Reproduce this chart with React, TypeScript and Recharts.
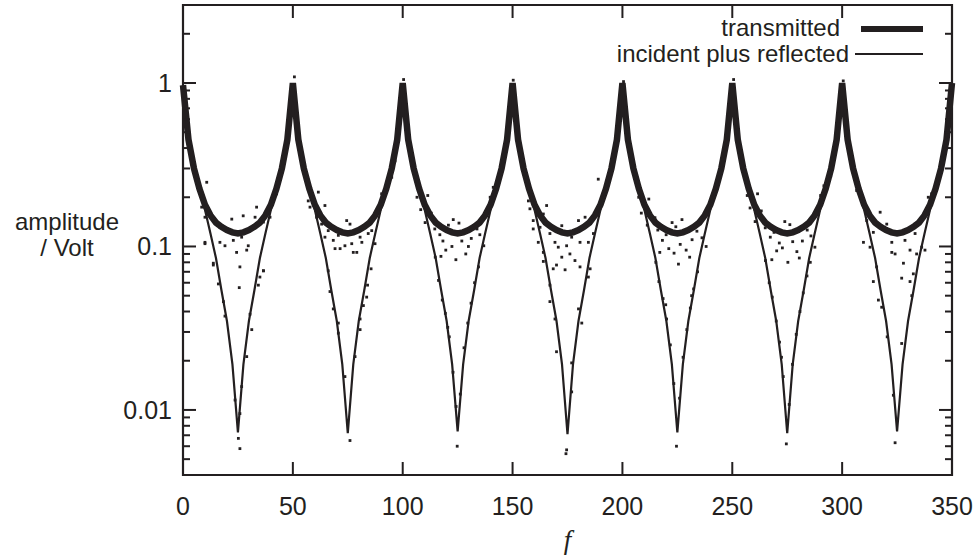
import React from 'react';
import { ComposedChart, Line, Scatter, XAxis, YAxis, ReferenceArea } from 'recharts';

// frequency samples (x axis)
const fValues = [
  0, 2.5, 5, 7.5, 10, 12.5, 15, 17.5, 20, 22.5, 25, 27.5, 30, 32.5, 35, 37.5, 40, 42.5, 45, 47.5,
  50, 52.5, 55, 57.5, 60, 62.5, 65, 67.5, 70, 72.5, 75, 77.5, 80, 82.5, 85, 87.5, 90, 92.5, 95, 97.5,
  100, 102.5, 105, 107.5, 110, 112.5, 115, 117.5, 120, 122.5, 125, 127.5, 130, 132.5, 135, 137.5, 140, 142.5, 145, 147.5,
  150, 152.5, 155, 157.5, 160, 162.5, 165, 167.5, 170, 172.5, 175, 177.5, 180, 182.5, 185, 187.5, 190, 192.5, 195, 197.5,
  200, 202.5, 205, 207.5, 210, 212.5, 215, 217.5, 220, 222.5, 225, 227.5, 230, 232.5, 235, 237.5, 240, 242.5, 245, 247.5,
  250, 252.5, 255, 257.5, 260, 262.5, 265, 267.5, 270, 272.5, 275, 277.5, 280, 282.5, 285, 287.5, 290, 292.5, 295, 297.5,
  300, 302.5, 305, 307.5, 310, 312.5, 315, 317.5, 320, 322.5, 325, 327.5, 330, 332.5, 335, 337.5, 340, 342.5, 345, 347.5,
  350,
];

// theory curve: transmitted (thick)
const transmittedValues = [
  0.97, 0.45, 0.30, 0.225, 0.18, 0.155, 0.14, 0.132, 0.126, 0.122, 0.12, 0.122, 0.126, 0.132, 0.14, 0.155, 0.18, 0.225, 0.30, 0.45,
  1.0, 0.45, 0.30, 0.225, 0.18, 0.155, 0.14, 0.132, 0.126, 0.122, 0.12, 0.122, 0.126, 0.132, 0.14, 0.155, 0.18, 0.225, 0.30, 0.45,
  1.0, 0.45, 0.30, 0.225, 0.18, 0.155, 0.14, 0.132, 0.126, 0.122, 0.12, 0.122, 0.126, 0.132, 0.14, 0.155, 0.18, 0.225, 0.30, 0.45,
  1.0, 0.45, 0.30, 0.225, 0.18, 0.155, 0.14, 0.132, 0.126, 0.122, 0.12, 0.122, 0.126, 0.132, 0.14, 0.155, 0.18, 0.225, 0.30, 0.45,
  1.0, 0.45, 0.30, 0.225, 0.18, 0.155, 0.14, 0.132, 0.126, 0.122, 0.12, 0.122, 0.126, 0.132, 0.14, 0.155, 0.18, 0.225, 0.30, 0.45,
  1.0, 0.45, 0.30, 0.225, 0.18, 0.155, 0.14, 0.132, 0.126, 0.122, 0.12, 0.122, 0.126, 0.132, 0.14, 0.155, 0.18, 0.225, 0.30, 0.45,
  1.0, 0.45, 0.30, 0.225, 0.18, 0.155, 0.14, 0.132, 0.126, 0.122, 0.12, 0.122, 0.126, 0.132, 0.14, 0.155, 0.18, 0.225, 0.30, 0.45,
  1.0,
];

// theory curve: incident plus reflected (thin)
const reflectedValues = [
  0.97, 0.46, 0.305, 0.225, 0.168, 0.12, 0.085, 0.054, 0.035, 0.019, 0.0073, 0.019, 0.035, 0.054, 0.085, 0.12, 0.168, 0.225, 0.305, 0.46,
  1.0, 0.46, 0.305, 0.225, 0.168, 0.12, 0.085, 0.054, 0.035, 0.019, 0.0072, 0.019, 0.035, 0.054, 0.085, 0.12, 0.168, 0.225, 0.305, 0.46,
  1.0, 0.46, 0.305, 0.225, 0.168, 0.12, 0.085, 0.054, 0.035, 0.019, 0.0074, 0.019, 0.035, 0.054, 0.085, 0.12, 0.168, 0.225, 0.305, 0.46,
  1.0, 0.46, 0.305, 0.225, 0.168, 0.12, 0.085, 0.054, 0.035, 0.019, 0.0071, 0.019, 0.035, 0.054, 0.085, 0.12, 0.168, 0.225, 0.305, 0.46,
  1.0, 0.46, 0.305, 0.225, 0.168, 0.12, 0.085, 0.054, 0.035, 0.019, 0.0073, 0.019, 0.035, 0.054, 0.085, 0.12, 0.168, 0.225, 0.305, 0.46,
  1.0, 0.46, 0.305, 0.225, 0.168, 0.12, 0.085, 0.054, 0.035, 0.019, 0.0072, 0.019, 0.035, 0.054, 0.085, 0.12, 0.168, 0.225, 0.305, 0.46,
  1.0, 0.46, 0.305, 0.225, 0.168, 0.12, 0.085, 0.054, 0.035, 0.019, 0.0074, 0.019, 0.035, 0.054, 0.085, 0.12, 0.168, 0.225, 0.305, 0.46,
  1.0,
];

// measured points [f, amplitude]
const transmittedMeasured = [
  [1.2, 0.82], [3.1, 0.41], [10.8, 0.247], [8.5, 0.174], [10.0, 0.151], [13.8, 0.144], [16.8, 0.131], [22.2, 0.147], [27.4, 0.154],
  [32.8, 0.151], [33.5, 0.174], [36.6, 0.141], [39.6, 0.151], [16.8, 0.106], [19.1, 0.101], [22.9, 0.109], [26.7, 0.114],
  [29.7, 0.101], [24.4, 0.092], [29.0, 0.095], [25.9, 0.075], [10.0, 0.106], [13.8, 0.079], [36.6, 0.071], [42.6, 0.21], [44.9, 0.29],
  [50.7, 1.09], [57.0, 0.19], [57.8, 0.174], [61.6, 0.215], [64.6, 0.178], [60.8, 0.151], [63.1, 0.137], [66.1, 0.125], [64.6, 0.114],
  [68.4, 0.109], [70.7, 0.117], [74.5, 0.144], [76.0, 0.137], [69.2, 0.097], [71.5, 0.097], [76.8, 0.104], [79.1, 0.092], [81.4, 0.106],
  [84.3, 0.12], [85.9, 0.125], [87.4, 0.104], [90.4, 0.21], [91.9, 0.22], [95.0, 0.265], [96.5, 0.334], [80.6, 0.114], [73.7, 0.101], [77.5, 0.092],
  [100.4, 1.05], [106.5, 0.2], [108.2, 0.168], [111.4, 0.205], [113.0, 0.16], [110.2, 0.14], [114.6, 0.128], [116.9, 0.118], [118.3, 0.108],
  [120.8, 0.135], [123.0, 0.146], [125.6, 0.139], [119.6, 0.095], [122.4, 0.1], [126.9, 0.108], [128.7, 0.09], [131.2, 0.112], [133.8, 0.128],
  [135.1, 0.118], [136.9, 0.101], [139.8, 0.2], [141.2, 0.23], [144.6, 0.28], [124.2, 0.083], [129.9, 0.1], [117.4, 0.087],
  [150.3, 1.04], [157.2, 0.19], [157.9, 0.17], [165.5, 0.178], [164.0, 0.158], [159.4, 0.144], [162.5, 0.131], [161.7, 0.106], [164.0, 0.092],
  [167.0, 0.12], [169.3, 0.106], [172.4, 0.134], [180.0, 0.144], [183.0, 0.151], [176.9, 0.114], [180.7, 0.106], [174.6, 0.101], [170.8, 0.099],
  [172.4, 0.086], [176.1, 0.09], [178.4, 0.082], [184.5, 0.106], [186.8, 0.12], [189.0, 0.258], [191.3, 0.21], [168.5, 0.073], [180.7, 0.075], [159.4, 0.128],
  [200.5, 1.02], [207.4, 0.2], [208.6, 0.16], [212.0, 0.195], [214.8, 0.15], [211.3, 0.135], [216.1, 0.126], [218.2, 0.109], [219.9, 0.118],
  [222.6, 0.14], [224.3, 0.132], [227.1, 0.146], [221.1, 0.097], [223.5, 0.091], [226.3, 0.103], [229.0, 0.095], [231.7, 0.11], [233.9, 0.124],
  [236.2, 0.113], [238.1, 0.1], [240.6, 0.19], [242.0, 0.225], [245.1, 0.3], [225.5, 0.078], [230.6, 0.086], [217.0, 0.092],
  [250.6, 1.05], [256.8, 0.205], [258.1, 0.172], [261.5, 0.21], [263.2, 0.165], [260.4, 0.142], [265.0, 0.13], [267.3, 0.114], [269.0, 0.122],
  [271.4, 0.105], [273.9, 0.142], [276.2, 0.136], [270.2, 0.094], [272.8, 0.098], [277.5, 0.107], [279.4, 0.093], [281.9, 0.108], [284.1, 0.126],
  [285.8, 0.116], [287.6, 0.099], [290.2, 0.205], [291.7, 0.235], [294.8, 0.27], [275.3, 0.08], [280.5, 0.085], [268.0, 0.083],
  [300.5, 1.03], [291.4, 0.21], [306.6, 0.22], [311.2, 0.144], [317.3, 0.162], [320.3, 0.137], [309.7, 0.106], [312.7, 0.099], [314.2, 0.122],
  [322.6, 0.106], [324.1, 0.09], [322.6, 0.092], [327.9, 0.079], [327.1, 0.064], [328.6, 0.109], [330.9, 0.095], [333.2, 0.12],
  [336.2, 0.099], [337.7, 0.095], [339.2, 0.2], [340.7, 0.21], [333.2, 0.137],
];

const reflectedMeasured = [
  [10.0, 0.104], [13.8, 0.077], [16.1, 0.059], [18.4, 0.046], [19.1, 0.0375], [25.6, 0.056], [30.5, 0.0385], [31.3, 0.031], [29.0, 0.0212],
  [26.7, 0.0139], [25.9, 0.0095], [25.2, 0.0067], [25.9, 0.0058], [34.3, 0.058], [36.6, 0.071], [35.0, 0.065], [23.7, 0.0115],
  [66.1, 0.071], [66.9, 0.053], [68.4, 0.0415], [70.7, 0.034], [70.7, 0.0295], [73.7, 0.016], [76.0, 0.0065], [78.3, 0.0212], [80.6, 0.031],
  [80.6, 0.036], [82.1, 0.0435], [83.6, 0.049], [84.0, 0.058], [85.6, 0.073],
  [114.8, 0.086], [116.3, 0.062], [118.0, 0.047], [119.4, 0.039], [121.2, 0.028], [122.9, 0.017], [124.3, 0.0105], [124.8, 0.006], [126.2, 0.0125],
  [127.9, 0.024], [129.6, 0.034], [131.1, 0.045], [132.7, 0.06], [134.5, 0.075], [120.5, 0.032],
  [164.0, 0.081], [170.0, 0.077], [173.9, 0.072], [167.0, 0.058], [167.0, 0.046], [169.3, 0.036], [170.0, 0.0227], [174.6, 0.0057], [174.3, 0.0054],
  [180.0, 0.0415], [181.5, 0.034], [184.5, 0.065], [185.3, 0.073], [176.9, 0.0129], [176.9, 0.0194],
  [215.2, 0.08], [216.6, 0.061], [218.5, 0.048], [220.1, 0.036], [221.8, 0.025], [223.4, 0.0145], [224.6, 0.006], [226.0, 0.0118], [227.6, 0.021],
  [229.3, 0.031], [230.9, 0.042], [232.4, 0.055], [234.2, 0.07], [219.7, 0.044], [231.5, 0.05],
  [265.1, 0.082], [266.8, 0.06], [268.2, 0.049], [270.0, 0.035], [271.5, 0.026], [273.2, 0.016], [274.6, 0.0062], [275.9, 0.0108], [277.4, 0.019],
  [279.1, 0.029], [280.8, 0.04], [282.3, 0.052], [284.0, 0.066], [285.5, 0.08], [272.4, 0.021],
  [315.7, 0.075], [314.2, 0.061], [318.0, 0.0425], [316.5, 0.047], [330.9, 0.061], [331.7, 0.05], [327.1, 0.0255], [323.3, 0.0123],
  [324.1, 0.0063], [333.9, 0.09], [332.4, 0.068], [320.5, 0.028],
];

const xTicks = [0, 50, 100, 150, 200, 250, 300, 350];
const yMajor = [0.01, 0.1, 1];
const yTicks = [
  0.005, 0.006, 0.007, 0.008, 0.009, 0.01,
  0.02, 0.03, 0.04, 0.05, 0.06, 0.07, 0.08, 0.09, 0.1,
  0.2, 0.3, 0.4, 0.5, 0.6, 0.7, 0.8, 0.9, 1, 2,
];

const seriesNames = ['transmitted', 'incident plus reflected'];

const INK = '#231f20';
const FONT = '"Liberation Sans", Arial, Helvetica, sans-serif';
const FS = 25;
const PLOT_W = 769;
const PLOT_H = 470;

const curveRows = fValues.map((f, i) => ({ f, t: transmittedValues[i], r: reflectedValues[i] }));
const tDots = transmittedMeasured.map(([f, v]) => ({ f, v }));
const rDots = reflectedMeasured.map(([f, v]) => ({ f, v }));

const YTick = (props: any) => {
  const { x, y, payload } = props;
  const major = yMajor.includes(payload.value);
  const len = major ? 13 : 7;
  return (
    <g>
      <line x1={x} x2={x + len} y1={y} y2={y} stroke={INK} strokeWidth={2} />
      <line x1={x + PLOT_W} x2={x + PLOT_W - len} y1={y} y2={y} stroke={INK} strokeWidth={2} />
      {major && (
        <text x={x - 11} y={y} dy="0.36em" textAnchor="end" fill={INK} fontSize={FS} fontFamily={FONT}>
          {String(payload.value)}
        </text>
      )}
    </g>
  );
};

const XTick = (props: any) => {
  const { x, y, payload } = props;
  return (
    <g>
      <line x1={x} x2={x} y1={y} y2={y - 13} stroke={INK} strokeWidth={2} />
      <line x1={x} x2={x} y1={y - PLOT_H} y2={y - PLOT_H + 13} stroke={INK} strokeWidth={2} />
      <text x={x} y={y + 31} dy="0.36em" textAnchor="middle" fill={INK} fontSize={FS} fontFamily={FONT}>
        {String(payload.value)}
      </text>
    </g>
  );
};

const Dot = (props: any) => {
  const { cx, cy } = props;
  if (cx == null || cy == null) return <g />;
  return <rect x={cx - 1.4} y={cy - 1.4} width={2.8} height={2.8} fill={INK} />;
};

export default function App() {
  return (
    <div style={{ position: 'absolute', left: 0, top: 0, width: 979, height: 558, background: '#fff' }}>
      <ComposedChart width={979} height={558} margin={{ top: 5, right: 27, bottom: 0, left: 0 }}>
        <XAxis
          type="number"
          dataKey="f"
          domain={[0, 350]}
          ticks={xTicks}
          interval={0}
          tick={(p: any) => <XTick {...p} />}
          tickLine={false}
          axisLine={false}
          tickSize={0}
          tickMargin={0}
          height={83}
          label={{
            content: ({ viewBox }: any) => (
              <text
                x={viewBox.x + viewBox.width / 2}
                y={viewBox.y + 74}
                textAnchor="middle"
                fill={INK}
                fontSize={27}
                fontStyle="italic"
                fontFamily='"Liberation Serif", "DejaVu Serif", serif'
              >
                f
              </text>
            ),
          }}
        />
        <YAxis
          type="number"
          scale="log"
          domain={[0.004, 3]}
          allowDataOverflow
          ticks={yTicks}
          interval={0}
          tick={(p: any) => <YTick {...p} />}
          tickLine={false}
          axisLine={false}
          tickSize={0}
          tickMargin={0}
          width={183}
          label={{
            content: () => (
              <text textAnchor="middle" fill={INK} fontSize={24} fontFamily={FONT}>
                <tspan x={67} y={230}>amplitude</tspan>
                <tspan x={67} y={256}>/ Volt</tspan>
              </text>
            ),
          }}
        />
        <Line
          data={curveRows}
          dataKey="t"
          name={seriesNames[0]}
          type="linear"
          stroke={INK}
          strokeWidth={6.5}
          dot={false}
          isAnimationActive={false}
        />
        <Line
          data={curveRows}
          dataKey="r"
          name={seriesNames[1]}
          type="linear"
          stroke={INK}
          strokeWidth={2.2}
          dot={false}
          isAnimationActive={false}
        />
        <Scatter data={tDots} dataKey="v" shape={<Dot />} isAnimationActive={false} />
        <Scatter data={rDots} dataKey="v" shape={<Dot />} isAnimationActive={false} />
        <ReferenceArea
          x1={0}
          x2={350}
          y1={0.004}
          y2={3}
          fill="none"
          stroke={INK}
          strokeWidth={2.2}
          ifOverflow="visible"
        />
      </ComposedChart>
      <svg width={979} height={80} style={{ position: 'absolute', left: 0, top: 0, pointerEvents: 'none' }}>
        <text x={840} y={36} textAnchor="end" fill={INK} fontSize={24} fontFamily={FONT}>
          {seriesNames[0]}
        </text>
        <line x1={861} x2={923} y1={29} y2={29} stroke={INK} strokeWidth={6} />
        <text x={849} y={62} textAnchor="end" fill={INK} fontSize={24} fontFamily={FONT}>
          {seriesNames[1]}
        </text>
        <line x1={855} x2={923} y1={54} y2={54} stroke={INK} strokeWidth={2} />
      </svg>
    </div>
  );
}
